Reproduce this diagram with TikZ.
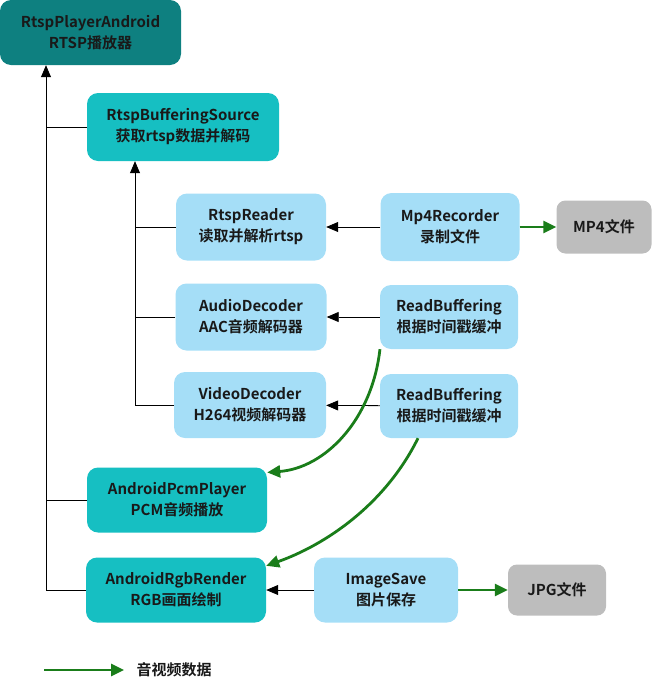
\documentclass[tikz,border=0pt]{standalone}
\usepackage{fontspec}
\setmainfont{Noto Sans CJK SC}[BoldFont={Noto Sans CJK SC Bold}]
\usepackage{xcolor}
\usetikzlibrary{positioning,arrows.meta}

\definecolor{darkteal}{HTML}{0E8080}
\definecolor{midteal}{HTML}{16BFC2}
\definecolor{lightblue}{HTML}{A5DEF7}
\definecolor{filegrey}{HTML}{BDBDBD}
\definecolor{datagreen}{HTML}{1A7D1A}

\begin{document}
\begin{tikzpicture}[x=1pt,y=-1pt,
    box/.style={rounded corners=11pt, align=center, inner sep=0pt,
      font=\fontsize{15}{21}\selectfont\bfseries, text=black!90},
    toplevel/.style={box, fill=darkteal},
    mainmod/.style={box, fill=midteal},
    submod/.style={box, fill=lightblue},
    filebox/.style={box, fill=filegrey, rounded corners=9pt},
    call/.style={draw=black, line width=0.8pt, -{Triangle[length=12pt,width=10pt]}},
    plain/.style={draw=black, line width=0.8pt},
    data/.style={draw=datagreen, line width=2.8pt, -{Triangle[length=13pt,width=12pt]}}]
                \useasboundingbox (0,0) rectangle (671,686);

                % player and its main modules
                \node[toplevel, minimum width=181pt, minimum height=65pt] (player) at (90.5,32.5) {RtspPlayerAndroid\\RTSP播放器};
                \node[mainmod, minimum width=192pt, minimum height=68pt] (bufsrc) at (183,127) {RtspBufferingSource\\获取rtsp数据并解码};
                \node[mainmod, minimum width=180pt, minimum height=65pt] (pcmplayer) at (177,500) {AndroidPcmPlayer\\PCM音频播放};
                \node[mainmod, minimum width=180pt, minimum height=65pt] (rgbrender) at (176,590) {AndroidRgbRender\\RGB画面绘制};

                % source sub modules
                \node[submod, minimum width=150pt, minimum height=67pt] (reader) at (251,227) {RtspReader\\读取并解析rtsp};
                \node[submod, minimum width=151pt, minimum height=67pt] (adec) at (251,317) {AudioDecoder\\AAC音频解码器};
                \node[submod, minimum width=152pt, minimum height=66pt] (vdec) at (250,405) {VideoDecoder\\H264视频解码器};

                \node[submod, minimum width=139pt, minimum height=68pt] (recorder) at (450,227) {Mp4Recorder\\录制文件};
                \node[submod, minimum width=138pt, minimum height=64pt] (rbufa) at (449,317) {ReadBuffering\\根据时间戳缓冲};
                \node[submod, minimum width=138pt, minimum height=64pt] (rbufv) at (449,406) {ReadBuffering\\根据时间戳缓冲};
                \node[submod, minimum width=144pt, minimum height=65pt] (imgsave) at (386,590) {ImageSave\\图片保存};

                % output files
                \node[filebox, minimum width=95pt, minimum height=53pt] (mp4file) at (604,227) {MP4文件};
                \node[filebox, minimum width=98pt, minimum height=51pt] (jpgfile) at (557,590) {JPG文件};

                % tree lines
                \coordinate (trunkA) at ([xshift=-44.5pt]player.south);
                \coordinate (trunkB) at ([xshift=-48pt]bufsrc.south);
                \draw[call] (rgbrender.west) -| (trunkA);
                \draw[plain] (pcmplayer.west) -- (pcmplayer.west -| trunkA);
                \draw[plain] (bufsrc.west) -- (bufsrc.west -| trunkA);
                \draw[call] (vdec.west) -| (trunkB);
                \draw[plain] (adec.west) -- (adec.west -| trunkB);
                \draw[plain] (reader.west) -- (reader.west -| trunkB);

                \draw[call] (recorder) -- (reader);
                \draw[call] (rbufa) -- (adec);
                \draw[call] (rbufv) -- (vdec);
                \draw[call] (imgsave) -- (rgbrender);

                % data flow
                \draw[data] (recorder) -- (mp4file);
                \draw[data] (imgsave) -- (jpgfile);
                \draw[data] (rbufa.205) .. controls (372,420) and (325,468) .. (pcmplayer.17);
                \draw[data] ([xshift=-31pt]rbufv.south) .. controls (385,505) and (325,545) .. (rgbrender.15);

                % legend
                \coordinate (legstart) at (44,670);
                \node[font=\fontsize{15}{21}\selectfont\bfseries, text=black!90, anchor=west] (legtext) at (133,670) {音视频数据};
                \draw[data] (legstart) -- ([xshift=-9pt]legtext.west);
            \end{tikzpicture}
\end{document}
